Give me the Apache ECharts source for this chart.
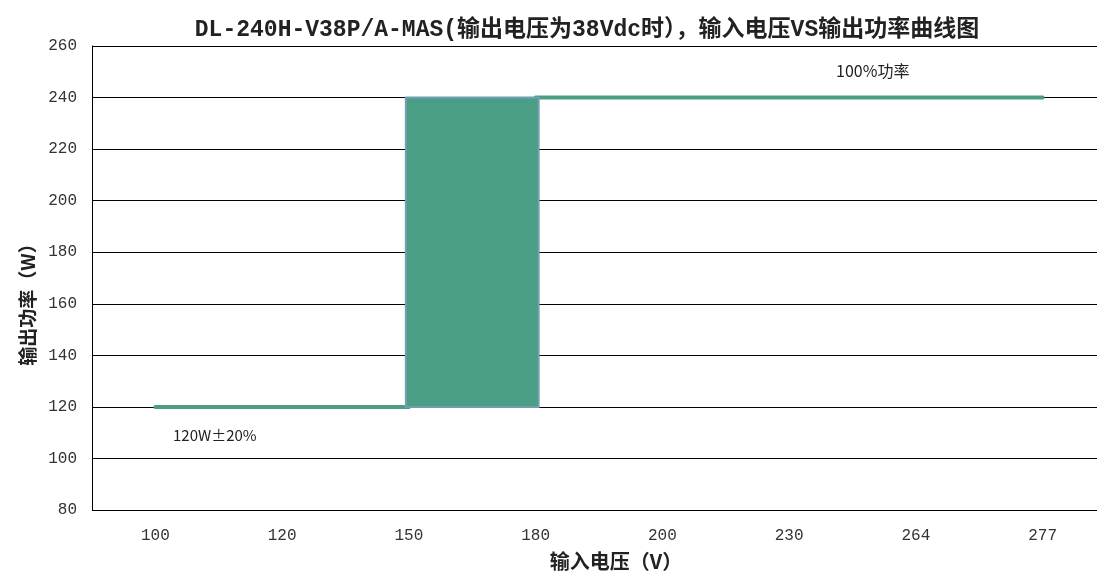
<!DOCTYPE html>
<html><head><meta charset="utf-8">
<script src="https://cdn.jsdelivr.net/npm/echarts@6/dist/echarts.min.js"></script>
<style>html,body{margin:0;padding:0;background:#fff}#c{width:1097px;height:572px}</style>
</head><body><div id="c"></div>
<script>
var categories = ['100','120','150','180','200','230','264','277'];
var lowPower = [120, 120, 120, null, null, null, null, null];
var highPower = [null, null, null, 240, 240, 240, 240, 240];
var boxRange = [['150', 120], ['180', 240]];
var yTicks = {min: 80, max: 260, interval: 20};

var green = '#4a9e86';
var chart = echarts.init(document.getElementById('c'));
chart.setOption({
  backgroundColor: '#fff',
  animation: false,
  title: {
    text: 'DL-240H-V38P/A-MAS(输出电压为38Vdc时），输入电压VS输出功率曲线图',
    left: 582, textAlign: 'center', top: 14,
    textStyle: {fontFamily: '"Liberation Mono", "Noto Sans CJK SC"', fontWeight: 'bold', fontSize: 23, color: '#222'}
  },
  grid: {left: 92, top: 46, width: 1014, height: 464, containLabel: false, outerBoundsMode: 'none'},
  xAxis: {
    type: 'category', data: categories, boundaryGap: true,
    name: '输入电压（V）', nameLocation: 'middle', nameGap: 41,
    nameTextStyle: {fontFamily: 'Noto Sans CJK SC', fontWeight: 'bold', fontSize: 20, color: '#222', padding: [0, 0, 0, 34]},
    axisLine: {show: false}, axisTick: {show: false},
    axisLabel: {margin: 18, fontFamily: 'Liberation Mono', fontSize: 16, color: '#333'}
  },
  yAxis: {
    type: 'value', min: yTicks.min, max: yTicks.max, interval: yTicks.interval,
    axisLine: {show: true, lineStyle: {color: '#000', width: 1}},
    axisTick: {show: false},
    axisLabel: {margin: 15, fontFamily: 'Liberation Mono', fontSize: 16, color: '#333'},
    splitLine: {lineStyle: {color: '#000', width: 1}}
  },
  series: [
    {
      type: 'custom', silent: true, z: 3,
      data: [[boxRange[0][0], boxRange[0][1], boxRange[1][0], boxRange[1][1]]],
      encode: {x: [0, 2], y: [1, 3]},
      renderItem: function (params, api) {
        var p1 = api.coord([api.value(0), api.value(1)]);
        var p2 = api.coord([api.value(2), api.value(3)]);
        return {
          type: 'rect',
          shape: {x: Math.min(p1[0], p2[0]) - 3, y: Math.min(p1[1], p2[1]), width: Math.abs(p2[0] - p1[0]) + 6, height: Math.abs(p2[1] - p1[1])},
          style: {fill: green, stroke: '#6f9fb0', lineWidth: 2}
        };
      }
    },
    {
      type: 'line', data: lowPower, symbol: 'none', z: 2,
      lineStyle: {color: green, width: 4, cap: 'round'}
    },
    {
      type: 'line', data: highPower, symbol: 'none', z: 2,
      lineStyle: {color: green, width: 4, cap: 'round'}
    }
  ],
  graphic: [
    {type: 'text', x: 28, y: 300, rotation: Math.PI / 2,
     style: {text: '输出功率（W）', font: 'bold 19px "Noto Sans CJK SC"', fill: '#222', align: 'center', verticalAlign: 'middle'}},
    {type: 'text', left: 173, top: 428, style: {text: '120W±20%', font: '15px "Noto Sans CJK SC"', fill: '#222'}},
    {type: 'text', left: 836, top: 63, style: {text: '100%功率', font: '16px "Noto Sans CJK SC"', fill: '#222'}}
  ]
});
</script></body></html>
